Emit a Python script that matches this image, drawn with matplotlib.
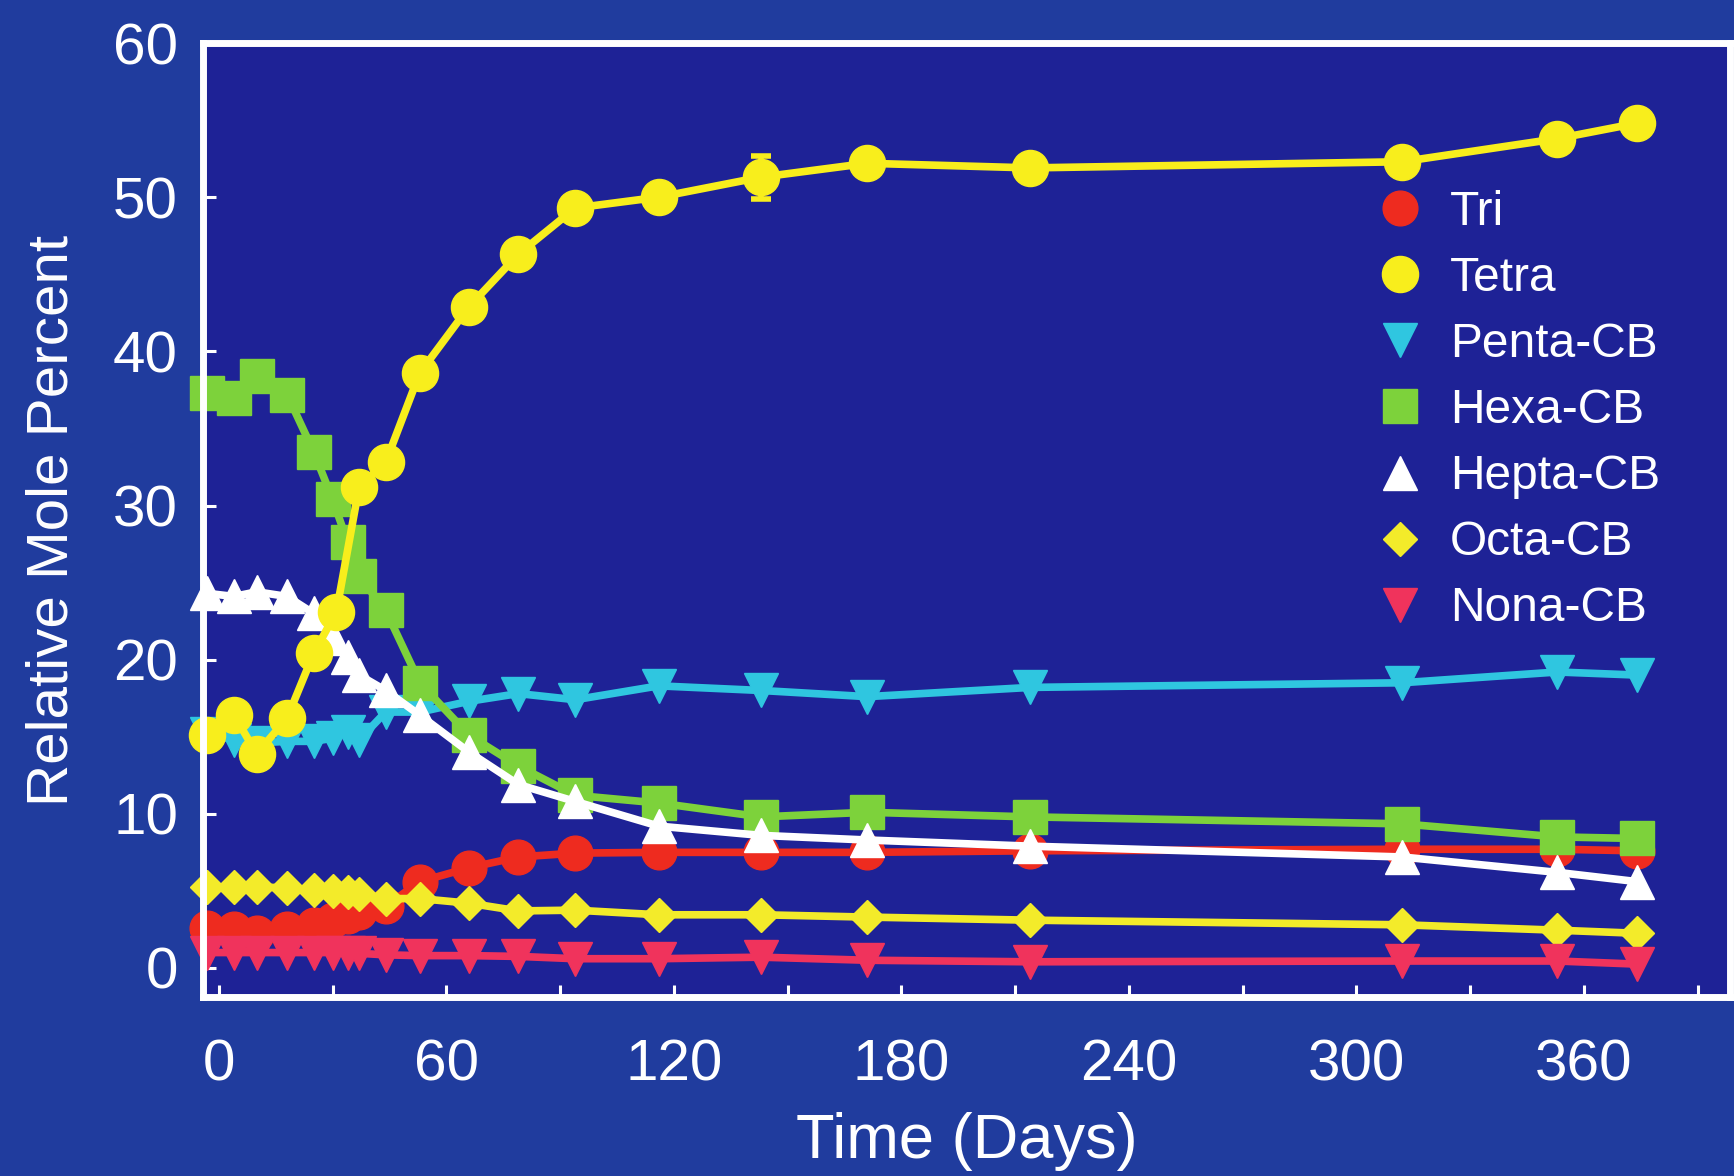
import matplotlib
matplotlib.use('Agg')
import matplotlib.pyplot as plt
from matplotlib.lines import Line2D
from matplotlib.ticker import MultipleLocator

plt.rcParams['font.family'] = ['Liberation Sans', 'DejaVu Sans']

# sampling times (days)
days = [-3, 4, 10, 18, 25, 30, 34, 37, 44, 53, 66, 79, 94, 116, 143, 171, 214, 312, 353, 374]
tetra_days = [-3, 4, 10, 18, 25, 31, 37, 44, 53, 66, 79, 94, 116, 143, 171, 214, 312, 353, 374]

tri = [2.6, 2.5, 2.3, 2.5, 2.8, 3.1, 3.4, 3.6, 4.0, 5.6, 6.5, 7.2, 7.45, 7.5, 7.5, 7.5, 7.6, 7.7, 7.7, 7.6]
tetra = [15.1, 16.4, 13.9, 16.2, 20.4, 23.1, 31.2, 32.8, 38.6, 42.9, 46.3, 49.3, 50.0, 51.3, 52.2, 51.9, 52.3, 53.8, 54.8]
tetra_err = [0, 0, 0, 0, 0, 0, 0, 0, 0, 0, 0, 0, 0, 1.4, 0, 0, 0, 0, 0]
penta = [15.2, 14.8, 14.6, 14.7, 14.7, 14.9, 15.3, 14.8, 16.6, 16.6, 17.3, 17.8, 17.4, 18.3, 18.0, 17.6, 18.2, 18.5, 19.2, 19.0]
hexa = [37.3, 37.0, 38.4, 37.2, 33.5, 30.4, 27.6, 25.4, 23.2, 18.5, 15.1, 13.1, 11.2, 10.7, 9.8, 10.1, 9.8, 9.35, 8.5, 8.4]
hepta = [24.3, 24.1, 24.4, 24.1, 23.0, 21.4, 20.2, 19.0, 18.0, 16.4, 14.0, 11.9, 10.8, 9.2, 8.6, 8.3, 7.9, 7.2, 6.2, 5.6]
octa = [5.25, 5.25, 5.25, 5.2, 5.05, 5.0, 4.9, 4.8, 4.5, 4.5, 4.2, 3.7, 3.75, 3.45, 3.45, 3.3, 3.1, 2.8, 2.45, 2.25]
nona = [1.0, 1.0, 1.0, 1.0, 1.0, 1.0, 1.0, 0.95, 0.85, 0.8, 0.8, 0.75, 0.6, 0.6, 0.7, 0.5, 0.4, 0.45, 0.45, 0.25]

labels = ["Tri", "Tetra", "Penta-CB", "Hexa-CB", "Hepta-CB", "Octa-CB", "Nona-CB"]

# (x, y, colour, marker, marker size)
styles = [
    (days, tri, '#ee2b1f', 'o', 25),
    (tetra_days, tetra, '#f8ee1c', 'o', 26),
    (days, penta, '#2fc6e0', 'v', 24),
    (days, hexa, '#7dd23b', 's', 24),
    (days, hepta, '#ffffff', '^', 24),
    (days, octa, '#f3eb2a', 'D', 17),
    (days, nona, '#f0335c', 'v', 24),
]

fig = plt.figure(figsize=(17.34, 11.76), dpi=100)
fig.patch.set_facecolor('#203c9e')
ax = fig.add_axes([0.117, 0.152, 0.8807, 0.8114])
ax.set_facecolor('#1e2296')

handles = []
for (xs, vals, col, mk, ms), lab in zip(styles, labels):
    if vals is tetra:
        ax.errorbar(xs, vals, yerr=tetra_err, color=col, lw=5.5, marker=mk, ms=ms,
                    mec=col, capsize=7, capthick=4, elinewidth=4, clip_on=False)
    else:
        ax.plot(xs, vals, color=col, lw=5.5, marker=mk, ms=ms, mec=col, clip_on=False)
    handles.append(Line2D([], [], ls='none', marker=mk, ms=ms, color=col, mec=col))

ax.set_xlim(-4.2, 398.5)
ax.set_ylim(-1.9, 60)
ax.xaxis.set_major_locator(MultipleLocator(60))
ax.xaxis.set_minor_locator(MultipleLocator(30))
ax.yaxis.set_major_locator(MultipleLocator(10))

for side in ['left', 'bottom', 'top', 'right']:
    ax.spines[side].set_color('white')
    ax.spines[side].set_linewidth(5)

ax.tick_params(which='both', direction='in', color='white', width=2.2, length=9,
               labelcolor='white', labelsize=42)
ax.tick_params(axis='x', which='both', pad=30, top=False)
ax.tick_params(axis='y', pad=18, right=False)

ax.set_xlabel("Time (Days)", color='white', fontsize=45.5, labelpad=14)
ax.set_ylabel("Relative Mole Percent", color='white', fontsize=42, labelpad=24)

leg = ax.legend(handles, labels, loc='upper left', bbox_to_anchor=(0.765, 0.846),
                frameon=False, fontsize=34.5, labelspacing=0.44, handletextpad=0.45,
                handlelength=1.2, borderpad=0, borderaxespad=0)
for t in leg.get_texts():
    t.set_color('white')

fig.savefig("out.png", dpi=100, facecolor=fig.get_facecolor())
